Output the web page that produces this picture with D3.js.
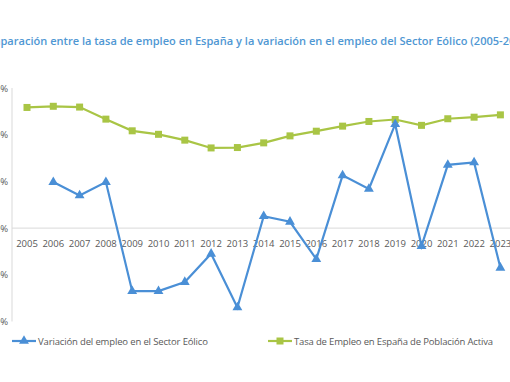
<!DOCTYPE html>
<html>
<head>
<meta charset="utf-8">
<script src="https://cdn.jsdelivr.net/npm/d3@7"></script>
<style>
  body { margin: 0; background: #fff; overflow: hidden; }
  svg { display: block; }
</style>
</head>
<body>
<svg id="chart" width="510" height="382"></svg>
<script>
const width = 510, height = 382;

// data
const years = ['2005','2006','2007','2008','2009','2010','2011','2012','2013','2014',
  '2015','2016','2017','2018','2019','2020','2021','2022','2023'];
// variación del empleo eólico (%), eje principal; 2005 sin dato
const eolico = [null, 19.7, 14.0, 19.7, -27.0, -27.0, -23.1, -11.0, -34.0, 5.1,
  2.7, -13.3, 22.6, 16.8, 44.5, -7.7, 27.1, 28.1, -17.0];
// tasa de empleo (%), eje secundario
const tasa = [55.0, 55.3, 55.1, 52.0, 49.0, 48.1, 46.6, 44.6, 44.7, 45.9,
  47.7, 48.9, 50.2, 51.4, 51.9, 50.4, 52.1, 52.5, 53.1];
const yTicks = [-40, -20, 0, 20, 40, 60];

const titleText = 'Comparación entre la tasa de empleo en España y la variación en el empleo del Sector Eólico (2005-2023)';
const legendNames = ['Variación del empleo en el Sector Eólico', 'Tasa de Empleo en España de Población Activa'];

const blue = '#4a8fd6', green = '#a9c545';
const grey = '#595959';

const svg = d3.select('#chart');

const x = d3.scalePoint()
  .domain(years)
  .range([27, 500.4]);

const y = d3.scaleLinear()
  .domain([-40, 60])
  .range([321.5, 88]);

// secondary axis (off the visible area)
const y2 = d3.scaleLinear()
  .domain([0, 60])
  .range([321.5, 88]);

// title, cropped on both sides like the reference
const title = svg.append('text')
  .attr('y', 45)
  .attr('fill', '#4f97d3')
  .style('font-family', '"Open Sans", sans-serif')
  .style('font-size', '12px')
  .style('font-weight', 600)
  .text(titleText);
// fit so that "paración ... (2005-" spans the visible width
let pre = title.node().getSubStringLength(0, 3);
let mid = title.node().getSubStringLength(3, titleText.length - 8);
const fs = 12 * 503 / mid;
title.style('font-size', fs + 'px');
pre = title.node().getSubStringLength(0, 3);
title.attr('x', -pre + 0.5);

// axis line and zero line
svg.append('line')
  .attr('x1', 12).attr('x2', 12)
  .attr('y1', y(60)).attr('y2', y(-40))
  .attr('stroke', '#d9d9d9');
svg.append('line')
  .attr('x1', 12).attr('x2', width)
  .attr('y1', y(0)).attr('y2', y(0))
  .attr('stroke', '#d9d9d9');

// left tick labels (mostly off screen)
svg.selectAll('.ytick')
  .data(yTicks)
  .enter()
  .append('text')
  .attr('class', 'ytick')
  .attr('x', 8)
  .attr('y', d => y(d) + 3.5)
  .attr('text-anchor', 'end')
  .attr('fill', grey)
  .style('font-family', '"Open Sans", sans-serif')
  .style('font-size', '9.5px')
  .text(d => d + '%');

// category labels just under the zero line
svg.selectAll('.xtick')
  .data(years)
  .enter()
  .append('text')
  .attr('class', 'xtick')
  .attr('x', d => x(d))
  .attr('y', y(0) + 18.5)
  .attr('text-anchor', 'middle')
  .attr('fill', grey)
  .style('font-family', '"Open Sans", sans-serif')
  .style('font-size', '9.5px')
  .text(d => d);

// green series
const greenLine = d3.line()
  .x((d, i) => x(years[i]))
  .y(d => y2(d));
svg.append('path')
  .attr('d', greenLine(tasa))
  .attr('fill', 'none')
  .attr('stroke', green)
  .attr('stroke-width', 2.2);
svg.selectAll('.sq')
  .data(tasa)
  .enter()
  .append('rect')
  .attr('class', 'sq')
  .attr('x', (d, i) => x(years[i]) - 3.5)
  .attr('y', d => y2(d) - 3.5)
  .attr('width', 7).attr('height', 7)
  .attr('fill', green);

// blue series
const blueLine = d3.line()
  .defined(d => d != null)
  .x((d, i) => x(years[i]))
  .y(d => y(d));
svg.append('path')
  .attr('d', blueLine(eolico))
  .attr('fill', 'none')
  .attr('stroke', blue)
  .attr('stroke-width', 2.2);

const tri = d3.symbol().type(d3.symbolTriangle).size(42);
svg.selectAll('.tri')
  .data(eolico.map((v, i) => ({ v, year: years[i] })).filter(d => d.v != null))
  .enter()
  .append('path')
  .attr('class', 'tri')
  .attr('d', tri)
  .attr('transform', d => `translate(${x(d.year)},${y(d.v)})`)
  .attr('fill', blue);

// legend
const legY = 341;
const legend = [
  { name: legendNames[0], color: blue, x0: 12, marker: 'tri', w: 170 },
  { name: legendNames[1], color: green, x0: 268, marker: 'sq', w: 199 }
];
legend.forEach(l => {
  svg.append('line')
    .attr('x1', l.x0).attr('x2', l.x0 + 24)
    .attr('y1', legY).attr('y2', legY)
    .attr('stroke', l.color)
    .attr('stroke-width', 2.2);
  if (l.marker === 'tri') {
    svg.append('path')
      .attr('d', tri)
      .attr('transform', `translate(${l.x0 + 12},${legY})`)
      .attr('fill', l.color);
  } else {
    svg.append('rect')
      .attr('x', l.x0 + 8.5).attr('y', legY - 3.5)
      .attr('width', 7).attr('height', 7)
      .attr('fill', l.color);
  }
  svg.append('text')
    .attr('x', l.x0 + 26)
    .attr('y', legY + 3.5)
    .attr('fill', grey)
    .attr('textLength', l.w)
    .attr('lengthAdjust', 'spacing')
    .style('font-family', '"Open Sans", sans-serif')
    .style('font-size', '9.5px')
    .text(l.name);
});
</script>
</body>
</html>
